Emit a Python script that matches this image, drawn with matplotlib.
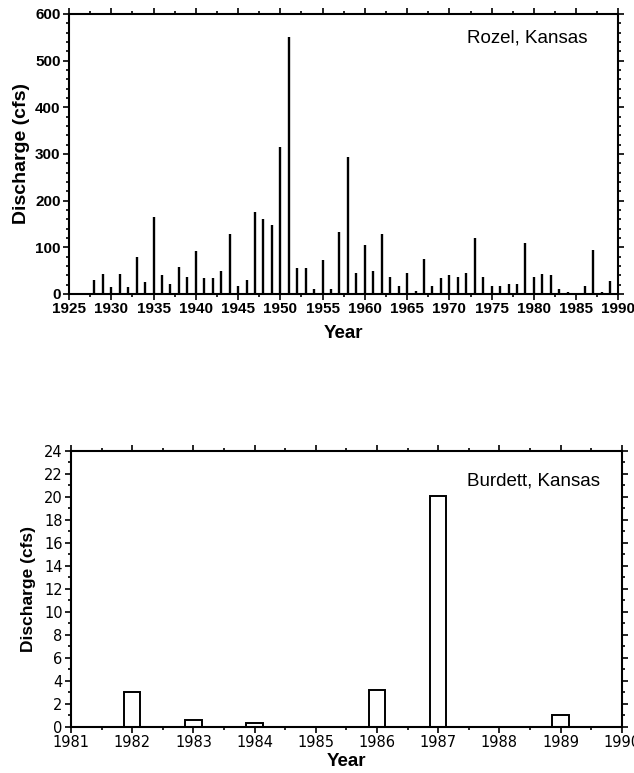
import matplotlib
matplotlib.use("Agg")
import matplotlib.pyplot as plt
from matplotlib.ticker import MultipleLocator

# ---- Data: Rozel, Kansas ----
rozel_years = [1928, 1929, 1930, 1931, 1932, 1933, 1934, 1935, 1936, 1937,
               1938, 1939, 1940, 1941, 1942, 1943, 1944, 1945, 1946, 1947,
               1948, 1949, 1950, 1951, 1952, 1953, 1954, 1955, 1956, 1957,
               1958, 1959, 1960, 1961, 1962, 1963, 1964, 1965, 1966, 1967,
               1968, 1969, 1970, 1971, 1972, 1973, 1974, 1975, 1976, 1977,
               1978, 1979, 1980, 1981, 1982, 1983, 1984, 1986, 1987, 1988,
               1989]
rozel_q = [30, 43, 14, 43, 14, 80, 26, 164, 40, 21,
           57, 37, 93, 34, 34, 49, 129, 17, 30, 175,
           161, 148, 316, 551, 56, 56, 10, 73, 10, 132,
           293, 46, 106, 49, 129, 37, 18, 46, 7, 76,
           18, 34, 40, 37, 46, 119, 37, 18, 18, 21,
           21, 110, 37, 43, 40, 11, 4, 18, 94, 4,
           28]

# ---- Data: Burdett, Kansas ----
burdett_years = [1982, 1983, 1984, 1986, 1987, 1989]
burdett_q = [3.0, 0.6, 0.35, 3.2, 20.1, 1.0]

fig = plt.figure(figsize=(6.34, 7.73), dpi=100)

bold_font = dict(family="Liberation Sans", weight="bold")

# ---------- Top chart ----------
ax1 = fig.add_axes([0.1088, 0.6197, 0.8667, 0.3622])
ax1.vlines(rozel_years, 0, rozel_q, color="black", linewidth=1.7)
ax1.set_xlim(1925, 1990)
ax1.set_ylim(0, 600)
ax1.xaxis.set_major_locator(MultipleLocator(5))
ax1.xaxis.set_minor_locator(MultipleLocator(2.5))
ax1.yaxis.set_major_locator(MultipleLocator(100))
ax1.yaxis.set_minor_locator(MultipleLocator(20))
ax1.tick_params(which="both", direction="out", top=True, right=True,
                labeltop=False, labelright=False, width=1.2)
ax1.tick_params(which="major", length=4, pad=2)
ax1.tick_params(which="minor", length=2.5)
for lab in ax1.get_xticklabels() + ax1.get_yticklabels():
    lab.set_fontfamily("Liberation Sans")
    lab.set_fontweight("bold")
    lab.set_fontsize(11)
for s in ax1.spines.values():
    s.set_linewidth(1.5)
ax1.set_xlabel("Year", fontsize=13.5, labelpad=6, **bold_font)
ax1.set_ylabel("Discharge (cfs)", fontsize=14, labelpad=4, **bold_font)
ax1.text(0.943, 0.915, "Rozel, Kansas", transform=ax1.transAxes,
         ha="right", va="center", fontsize=13.5, family="Liberation Sans")

# ---------- Bottom chart ----------
ax2 = fig.add_axes([0.112, 0.0599, 0.8686, 0.3570])
ax2.bar(burdett_years, burdett_q, width=0.27, facecolor="white",
        edgecolor="black", linewidth=1.4)
ax2.set_xlim(1981, 1990)
ax2.set_ylim(0, 24)
ax2.xaxis.set_major_locator(MultipleLocator(1))
ax2.xaxis.set_minor_locator(MultipleLocator(0.5))
ax2.yaxis.set_major_locator(MultipleLocator(2))
ax2.yaxis.set_minor_locator(MultipleLocator(1))
ax2.tick_params(which="both", direction="out", top=True, right=True,
                labeltop=False, labelright=False, width=1.2)
ax2.tick_params(which="major", length=4, pad=2)
ax2.tick_params(which="minor", length=2.5)
for lab in ax2.get_xticklabels() + ax2.get_yticklabels():
    lab.set_fontfamily("DejaVu Sans")
    lab.set_fontsize(10.5)
for s in ax2.spines.values():
    s.set_linewidth(1.5)
ax2.set_xlabel("Year", fontsize=13.5, labelpad=2, **bold_font)
ax2.set_ylabel("Discharge (cfs)", fontsize=12.5, labelpad=6, **bold_font)
ax2.text(0.96, 0.89, "Burdett, Kansas", transform=ax2.transAxes,
         ha="right", va="center", fontsize=13.5, family="Liberation Sans")

fig.savefig("out.png", dpi=100)
